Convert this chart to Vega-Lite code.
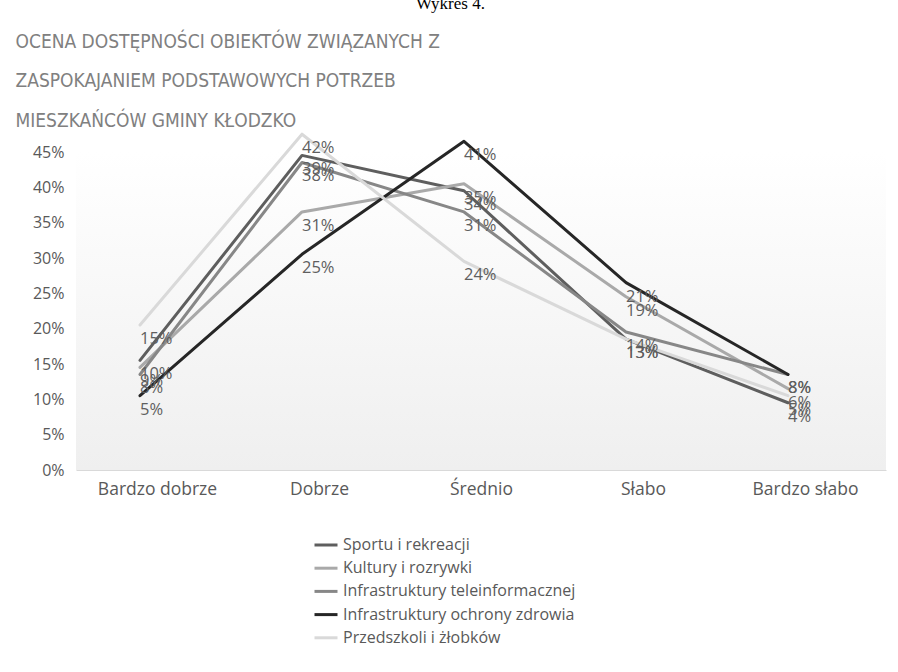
{
  "$schema": "https://vega.github.io/schema/vega-lite/v6.json",
  "width": 810,
  "height": 318,
  "autosize": {"type": "none"},
  "padding": {"left": 76, "top": 152, "right": 12, "bottom": 202},
  "background": "white",
  "title": {
    "text": "Wykres 4.",
    "anchor": "middle",
    "frame": "bounds",
    "font": "Liberation Serif",
    "fontSize": 17,
    "fontWeight": "normal",
    "color": "#000000",
    "baseline": "alphabetic",
    "offset": 0,
    "dy": -6
  },
  "data": {
    "values": [
      {"kategoria": "Bardzo dobrze", "seria": "Sportu i rekreacji", "wartosc": 0.10},
      {"kategoria": "Dobrze", "seria": "Sportu i rekreacji", "wartosc": 0.39},
      {"kategoria": "Średnio", "seria": "Sportu i rekreacji", "wartosc": 0.34},
      {"kategoria": "Słabo", "seria": "Sportu i rekreacji", "wartosc": 0.13},
      {"kategoria": "Bardzo słabo", "seria": "Sportu i rekreacji", "wartosc": 0.04},
      {"kategoria": "Bardzo dobrze", "seria": "Kultury i rozrywki", "wartosc": 0.09},
      {"kategoria": "Dobrze", "seria": "Kultury i rozrywki", "wartosc": 0.31},
      {"kategoria": "Średnio", "seria": "Kultury i rozrywki", "wartosc": 0.35},
      {"kategoria": "Słabo", "seria": "Kultury i rozrywki", "wartosc": 0.19},
      {"kategoria": "Bardzo słabo", "seria": "Kultury i rozrywki", "wartosc": 0.06},
      {"kategoria": "Bardzo dobrze", "seria": "Infrastruktury teleinformacznej", "wartosc": 0.08},
      {"kategoria": "Dobrze", "seria": "Infrastruktury teleinformacznej", "wartosc": 0.38},
      {"kategoria": "Średnio", "seria": "Infrastruktury teleinformacznej", "wartosc": 0.31},
      {"kategoria": "Słabo", "seria": "Infrastruktury teleinformacznej", "wartosc": 0.14},
      {"kategoria": "Bardzo słabo", "seria": "Infrastruktury teleinformacznej", "wartosc": 0.08},
      {"kategoria": "Bardzo dobrze", "seria": "Infrastruktury ochrony zdrowia", "wartosc": 0.05},
      {"kategoria": "Dobrze", "seria": "Infrastruktury ochrony zdrowia", "wartosc": 0.25},
      {"kategoria": "Średnio", "seria": "Infrastruktury ochrony zdrowia", "wartosc": 0.41},
      {"kategoria": "Słabo", "seria": "Infrastruktury ochrony zdrowia", "wartosc": 0.21},
      {"kategoria": "Bardzo słabo", "seria": "Infrastruktury ochrony zdrowia", "wartosc": 0.08},
      {"kategoria": "Bardzo dobrze", "seria": "Przedszkoli i żłobków", "wartosc": 0.15},
      {"kategoria": "Dobrze", "seria": "Przedszkoli i żłobków", "wartosc": 0.42},
      {"kategoria": "Średnio", "seria": "Przedszkoli i żłobków", "wartosc": 0.24},
      {"kategoria": "Słabo", "seria": "Przedszkoli i żłobków", "wartosc": 0.13},
      {"kategoria": "Bardzo słabo", "seria": "Przedszkoli i żłobków", "wartosc": 0.05}
    ]
  },
  "layer": [
    {
      "mark": {"type": "line", "strokeWidth": 3, "strokeCap": "round", "strokeJoin": "round", "xOffset": -17, "yOffset": -39},
      "encoding": {
        "x": {
          "field": "kategoria", "type": "nominal",
          "sort": ["Bardzo dobrze", "Dobrze", "Średnio", "Słabo", "Bardzo słabo"],
          "axis": {
            "title": null, "labelAngle": 0, "ticks": false, "grid": false,
            "domainColor": "#d9d9d9", "domainWidth": 1,
            "labelFont": "Open Sans", "labelFontSize": 17.5, "labelColor": "#595959",
            "labelPadding": 10
          }
        },
        "y": {
          "field": "wartosc", "type": "quantitative",
          "scale": {"domain": [0, 0.45], "nice": false, "zero": true},
          "axis": {
            "title": null, "values": [0, 0.05, 0.1, 0.15, 0.2, 0.25, 0.3, 0.35, 0.4, 0.45],
            "format": ".0%", "domain": false, "ticks": false, "grid": false,
            "labelFont": "Open Sans", "labelFontSize": 16, "labelColor": "#595959",
            "labelPadding": 12
          }
        },
        "color": {
          "field": "seria", "type": "nominal",
          "scale": {
            "domain": ["Sportu i rekreacji", "Kultury i rozrywki", "Infrastruktury teleinformacznej", "Infrastruktury ochrony zdrowia", "Przedszkoli i żłobków"],
            "range": ["#5e5e5e", "#a9a9a9", "#878787", "#262626", "#d9d9d9"]
          },
          "legend": {
            "title": null, "orient": "none", "legendX": 237, "legendY": 380,
            "direction": "vertical", "symbolType": "stroke", "symbolStrokeWidth": 3,
            "symbolSize": 529, "labelFont": "Open Sans", "labelFontSize": 16,
            "labelColor": "#595959", "rowPadding": 2.2, "labelOffset": 4, "labelLimit": 0
          }
        },
        "order": {"field": "seria"}
      }
    },
    {
      "mark": {"type": "text", "align": "left", "baseline": "middle", "xOffset": -17, "yOffset": -25, "font": "Open Sans", "fontSize": 16.5, "color": "#5f5f5f"},
      "encoding": {
        "x": {
          "field": "kategoria", "type": "nominal",
          "sort": ["Bardzo dobrze", "Dobrze", "Średnio", "Słabo", "Bardzo słabo"],
          "axis": {
            "orient": "top", "labels": false, "ticks": false, "domain": false, "grid": false,
            "title": ["OCENA DOSTĘPNOŚCI OBIEKTÓW ZWIĄZANYCH Z", "ZASPOKAJANIEM PODSTAWOWYCH POTRZEB", "MIESZKAŃCÓW GMINY KŁODZKO"],
            "titleX": -61, "titleY": -105, "titleAlign": "left", "titleAnchor": "start",
            "titleBaseline": "alphabetic", "titleLineHeight": 39.5,
            "titleFont": "DejaVu Sans Condensed, Roboto, sans-serif", "titleFontSize": 19, "titleFontWeight": "normal",
            "titleColor": "#808080"
          }
        },
        "y": {"field": "wartosc", "type": "quantitative", "axis": null},
        "text": {"field": "wartosc", "type": "quantitative", "format": ".0%"}
      }
    }
  ],
  "resolve": {"axis": {"x": "independent", "y": "independent"}},
  "config": {
    "view": {
      "stroke": null,
      "fill": {"gradient": "linear", "x1": 0, "y1": 0, "x2": 0, "y2": 1,
        "stops": [{"offset": 0, "color": "#ffffff"}, {"offset": 1, "color": "#efefef"}]}
    }
  }
}
